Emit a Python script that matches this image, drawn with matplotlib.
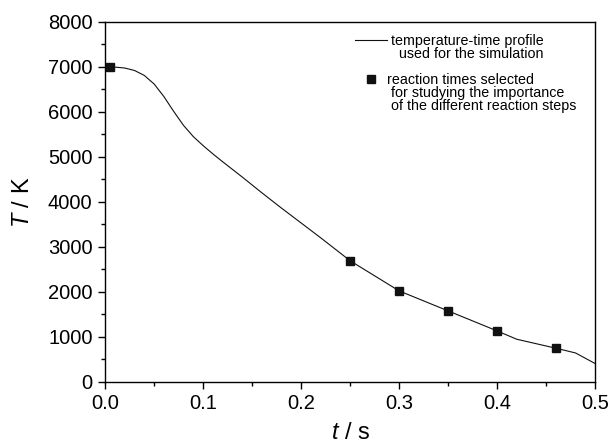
import matplotlib
matplotlib.use("Agg")
import matplotlib.pyplot as plt
from matplotlib.lines import Line2D
from matplotlib.ticker import MultipleLocator, FormatStrFormatter

# temperature-time profile
t_profile = [0.0, 0.01, 0.02, 0.03, 0.04, 0.05, 0.06, 0.07, 0.08, 0.09,
             0.10, 0.11, 0.12, 0.14, 0.16, 0.18, 0.20, 0.22, 0.25, 0.30,
             0.35, 0.40, 0.42, 0.44, 0.46, 0.48, 0.50]
T_profile = [7000, 6995, 6975, 6920, 6810, 6620, 6340, 6010, 5700, 5450,
             5250, 5065, 4890, 4550, 4200, 3860, 3530, 3200, 2690, 2020,
             1575, 1130, 945, 845, 745, 640, 405]

# selected reaction times
t_sel = [0.005, 0.25, 0.30, 0.35, 0.40, 0.46]
T_sel = [7000, 2690, 2020, 1575, 1130, 745]

legend_lines = [" temperature-time profile",
                "   used for the simulation",
                "",
                "reaction times selected",
                " for studying the importance",
                " of the different reaction steps"]

plt.rcParams["font.family"] = "Liberation Sans"
plt.rcParams["mathtext.fontset"] = "custom"
plt.rcParams["mathtext.rm"] = "Liberation Sans"
plt.rcParams["mathtext.it"] = "Liberation Sans:italic"

fig = plt.figure(figsize=(6.11, 4.47), dpi=100)
ax = fig.add_axes([0.172, 0.146, 0.802, 0.805])

line, = ax.plot(t_profile, T_profile, color="#111111", linewidth=0.8)
pts, = ax.plot(t_sel, T_sel, linestyle="none", marker="s", markersize=6,
               color="#111111")

ax.set_xlim(0, 0.5)
ax.set_ylim(0, 8000)
ax.xaxis.set_major_locator(MultipleLocator(0.1))
ax.xaxis.set_minor_locator(MultipleLocator(0.05))
ax.yaxis.set_major_locator(MultipleLocator(1000))
ax.yaxis.set_minor_locator(MultipleLocator(500))
ax.xaxis.set_major_formatter(FormatStrFormatter("%.1f"))

ax.tick_params(which="major", direction="out", length=5, width=1, labelsize=14.5, pad=4)
ax.tick_params(which="minor", direction="out", length=3, width=1)
for s in ax.spines.values():
    s.set_linewidth(1)

ax.set_xlabel(r"$t$ / s", fontsize=17, labelpad=6)
ax.set_ylabel(r"$T$ / K", fontsize=17, labelpad=10)

# legend: one row per text line so the handles sit on the first line
blank = Line2D([], [], linestyle="none")
handles = [line, blank, blank, pts, blank, blank]
leg = ax.legend(handles, legend_lines, loc="upper left",
                bbox_to_anchor=(0.51, 0.965), frameon=False, fontsize=10.3,
                handlelength=2.25, handletextpad=0.0, labelspacing=-0.08,
                borderpad=0, borderaxespad=0)

fig.savefig("out.png", dpi=100)
